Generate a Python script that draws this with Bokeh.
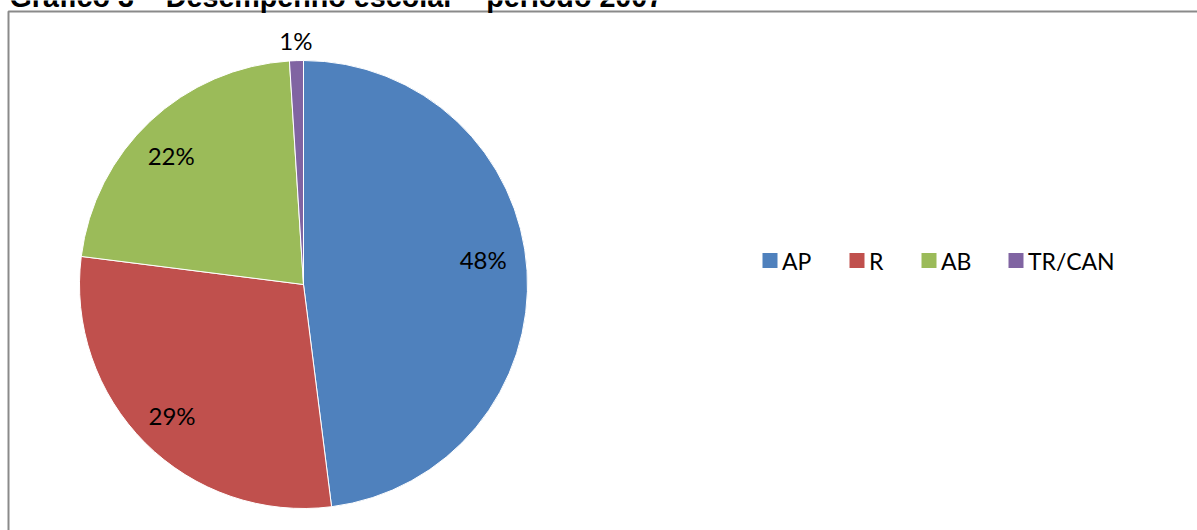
import math
from bokeh.plotting import figure
from bokeh.models import ColumnDataSource, Range1d
from bokeh.core.properties import value
from bokeh.embed import file_html
from bokeh.resources import INLINE

# ---- data ----
title_text = "Gráfico 3 – Desempenho escolar – período 2007"
categories = ["AP", "R", "AB", "TR/CAN"]
shares = [48, 29, 22, 1]
label_texts = ["48%", "29%", "22%", "1%"]
colors = ["#4F81BD", "#C0504D", "#9BBB59", "#8064A2"]

# ---- layout ----
W, H = 1197, 530
cx, cy, R = 303, 530 - 284, 224
label_dist = [0.81, 0.83, 0.825, 1.09]
label_turn = [-4.4, 0.0, -2.5, 0.0]   # degrees, clockwise-positive
legend_sq_x = [769.5, 856.5, 928.5, 1015.5]
legend_y = 530 - 260

total = float(sum(shares))
starts, ends, lx, ly = [], [], [], []
cum = 0.0
for s, d, t in zip(shares, label_dist, label_turn):
    a0 = math.pi / 2 - 2 * math.pi * cum / total
    a1 = math.pi / 2 - 2 * math.pi * (cum + s) / total
    starts.append(a0)
    ends.append(a1)
    mid = (a0 + a1) / 2 - math.radians(t)
    lx.append(cx + d * R * math.cos(mid))
    ly.append(cy + d * R * math.sin(mid))
    cum += s

src = ColumnDataSource(dict(cat=categories, start=starts, end=ends, color=colors,
                            lab=label_texts, lx=lx, ly=ly))

p = figure(width=W, height=H, x_range=Range1d(0, W), y_range=Range1d(0, H),
           x_axis_type=None, y_axis_type=None, toolbar_location=None,
           output_backend="svg", min_border=0, outline_line_color=None,
           background_fill_color="white", border_fill_color="white")
p.grid.visible = False

p.wedge(x=cx, y=cy, radius=R, start_angle="start", end_angle="end",
        direction="clock", fill_color="color", line_color="white",
        line_width=1, source=src)

p.text(x="lx", y="ly", text="lab", source=src, text_align="center",
       text_baseline="middle", text_font=value("Lato"), text_font_size="24px",
       text_color="black")

# chart-area border (left and top edges visible)
p.line(x=[8, 8, W + 5], y=[-5, H - 11, H - 11], line_color="#8A8A8A", line_width=2)

# title (cut off at top as in the reference)
p.text(x=[9], y=[H + 4], text=[title_text], text_align="left",
       text_baseline="alphabetic", text_font=value("Liberation Sans"),
       text_font_style="bold", text_font_size="28.7px", text_color="black")

# legend
lsrc = ColumnDataSource(dict(x=legend_sq_x, tx=[v + 12 for v in legend_sq_x],
                             y=[legend_y] * len(categories), cat=categories,
                             color=colors))
p.rect(x="x", y="y", width=15, height=15, fill_color="color", line_color=None,
       source=lsrc)
p.text(x="tx", y="y", text="cat", source=lsrc, text_align="left",
       text_baseline="middle", text_font=value("Lato"), text_font_size="23px",
       text_color="black")

open("out.html", "w").write(file_html(p, INLINE))
